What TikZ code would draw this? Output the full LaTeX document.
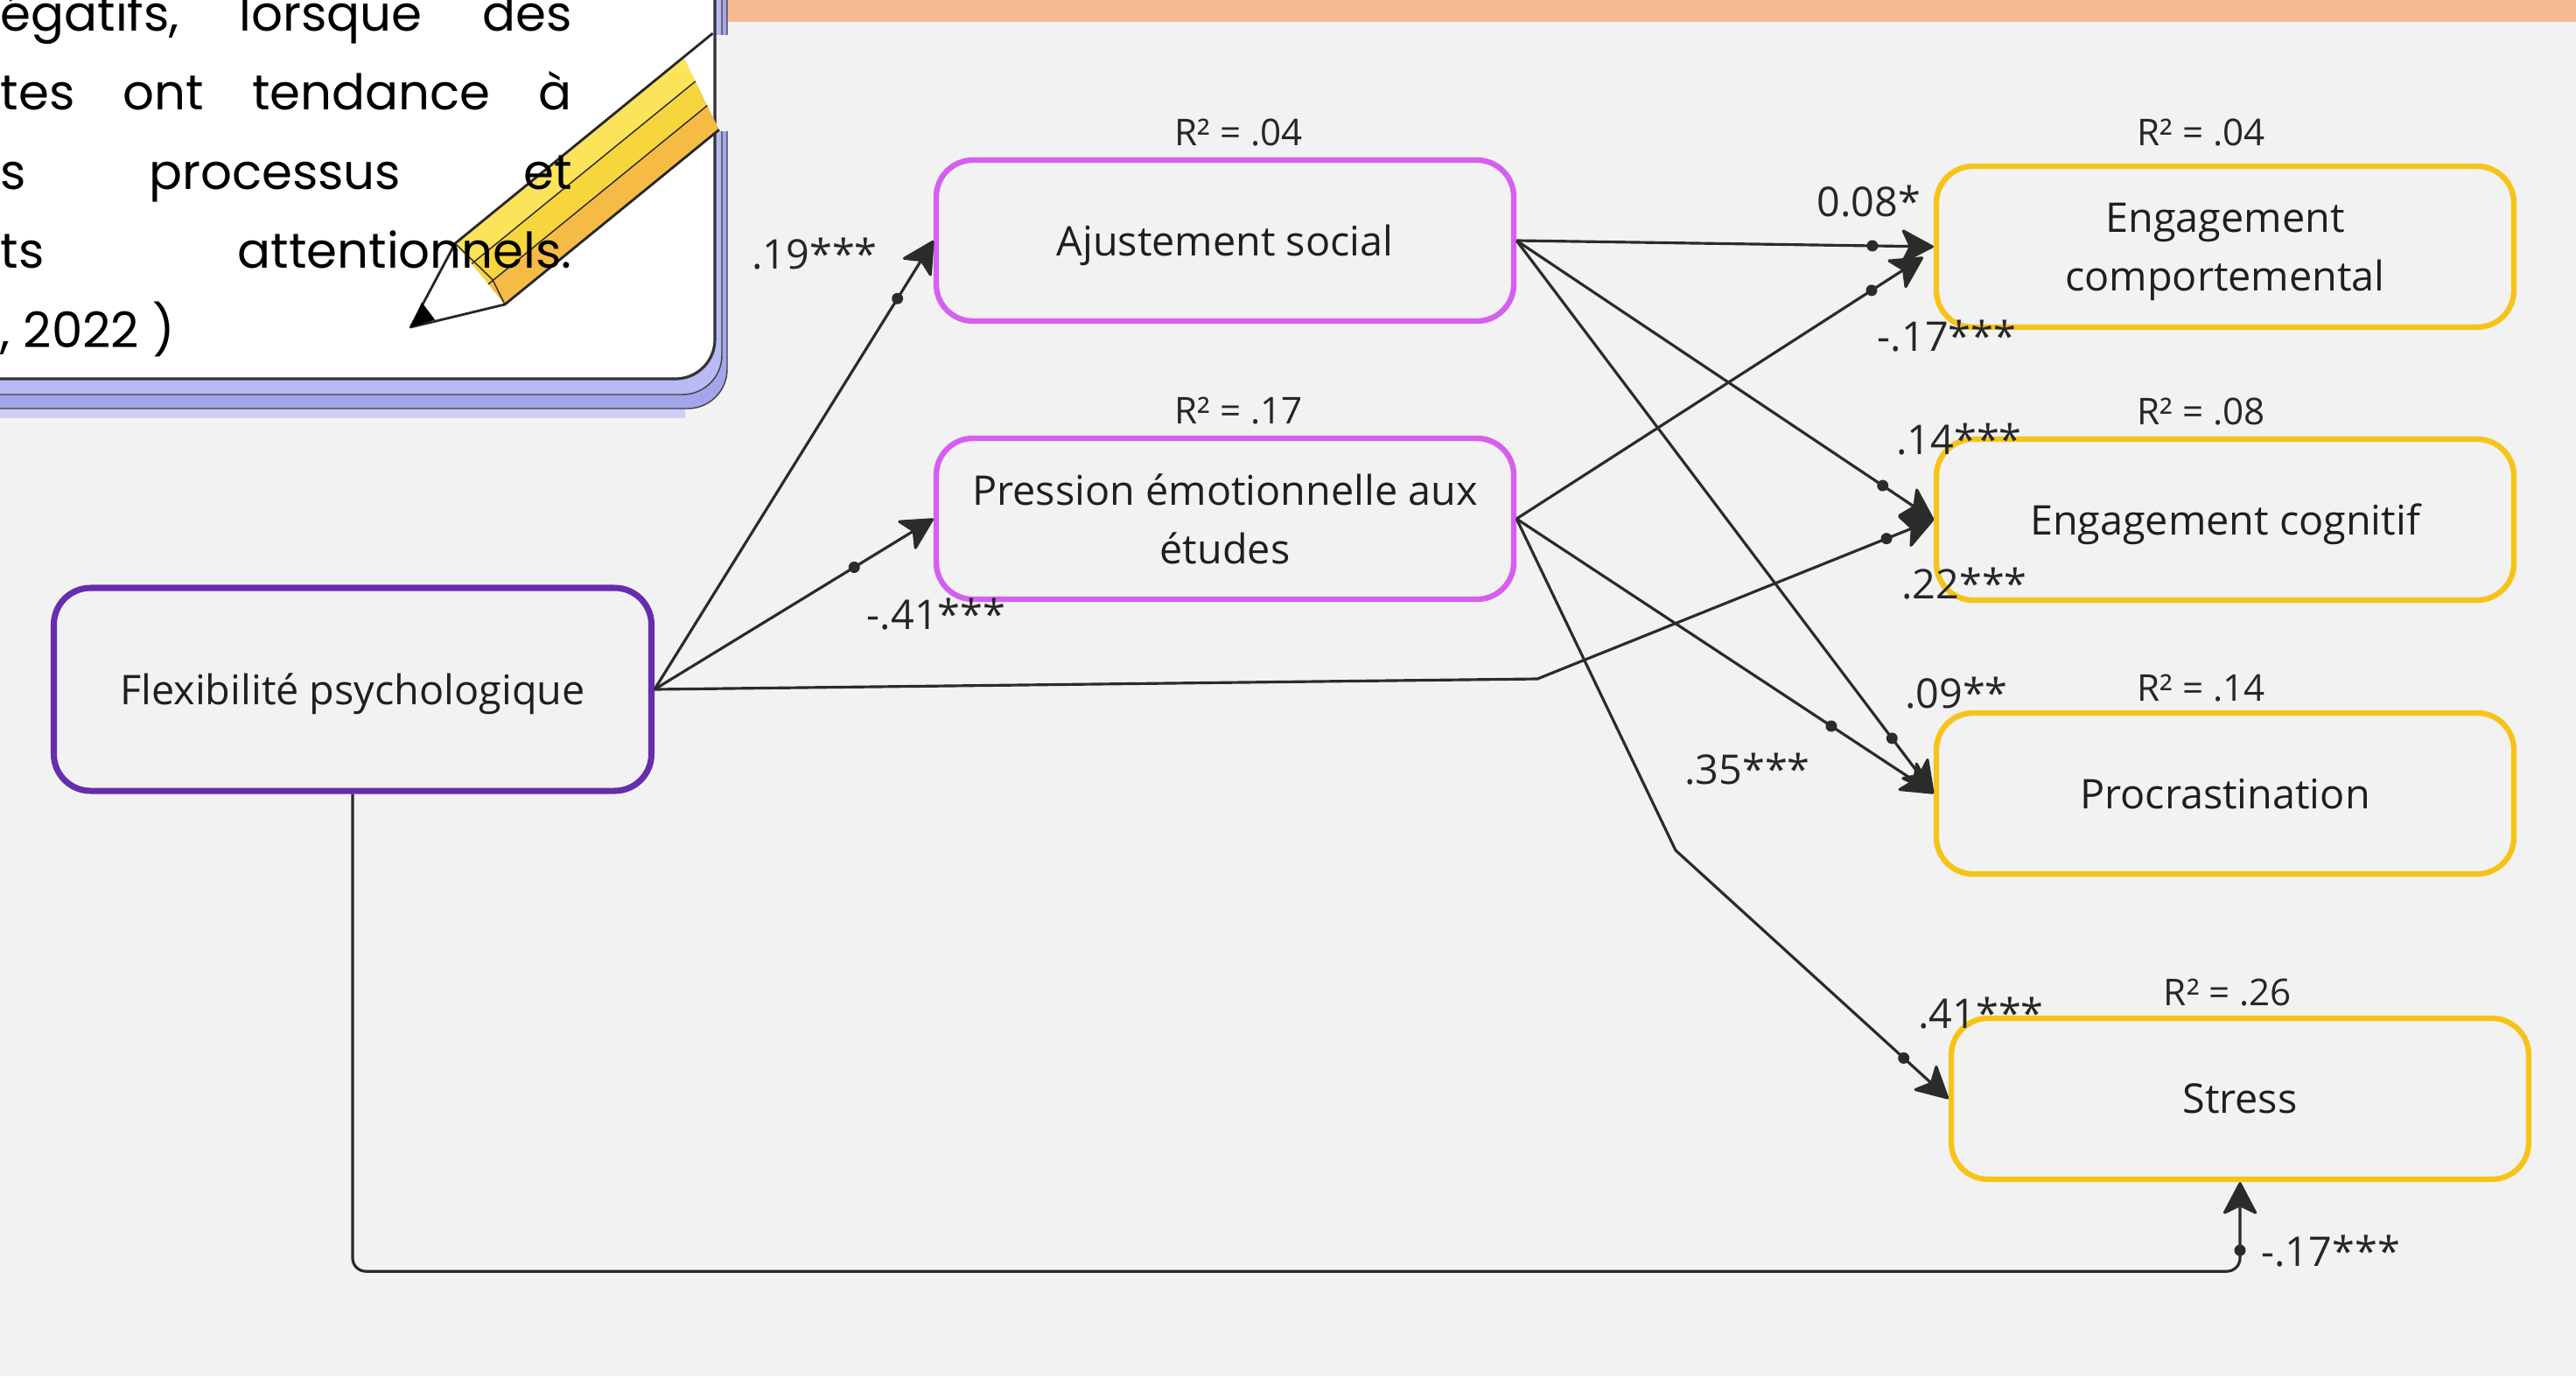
\documentclass[tikz,border=0pt]{standalone}
\usepackage{fontspec}
\setmainfont{Open Sans}
\newfontfamily\cardfont{Poppins}
\usetikzlibrary{arrows.meta,decorations.markings}

\definecolor{bgcol}{HTML}{F2F2F2}
\definecolor{flexcol}{HTML}{662DAD}
\definecolor{medcol}{HTML}{D55FF0}
\definecolor{outcol}{HTML}{F6C418}
\definecolor{linecol}{HTML}{2B2B2B}
\definecolor{peach}{HTML}{F5BB93}
\definecolor{lavender}{HTML}{B9B9F3}
\definecolor{lavdark}{HTML}{A5A5EC}
\definecolor{pencilA}{HTML}{FBE35A}
\definecolor{pencilB}{HTML}{F7D53C}
\definecolor{pencilC}{HTML}{F5BB45}

\tikzset{
    box/.style={draw, rounded corners=0.42cm, line width=1.8pt,
        minimum width=6.6cm, minimum height=1.84cm, align=center,
        text depth=0pt, text=black!88, font=\fontsize{13.3}{19}\selectfont},
    flexbox/.style={box, draw=flexcol, line width=2pt,
        minimum width=6.83cm, minimum height=2.32cm},
    medbox/.style={box, draw=medcol},
    outbox/.style={box, draw=outcol},
    rsq/.style={text=black!85, font=\fontsize{12}{14}\selectfont},
    coef/.style={text=black!85, font=\fontsize{13.3}{15}\selectfont},
    link/.style={draw=linecol, line width=0.9pt,
        -{Stealth[length=0.4cm,width=0.42cm,inset=0.1cm,round]}},
    knot/.style={postaction={decorate, decoration={markings,
        mark=at position -#1 with {\fill[linecol] (0,0) circle (0.065);}}}},
    knot/.default=0.78cm,
    cardtxt/.style={anchor=base west, inner sep=0pt,
        font=\cardfont\fontsize{16}{18}\selectfont}
}

\begin{document}
\begin{tikzpicture}
    \useasboundingbox (0,0) rectangle (29.44,-15.73);
    \clip (0,0) rectangle (29.44,-15.73);
    \fill[bgcol] (0,0) rectangle (29.44,-15.73);
    \fill[peach] (8.31,0) rectangle (29.44,-0.245);

    % note card
    \fill[lavender!70] (-1,1) rectangle (7.83,-4.78);
    \begin{scope}[rounded corners=0.45cm]
    \draw[black!75, fill=lavdark] (-1,1) rectangle (8.31,-4.67);
    \draw[black!75, fill=lavender] (-1,1) rectangle (8.25,-4.51);
    \draw[black!80, line width=0.9pt, fill=white] (-1,1) rectangle (8.17,-4.33);
    \end{scope}
    \fill[bgcol] (8.19,-0.40) rectangle (8.35,-1.50);

    % pencil
    \begin{scope}[shift={(5.77,-3.48)}, rotate=39.2, line join=round, black!85]
    \fill[white] (0,0) -- (-1.0,0.48) -- (0,0.9) -- cycle;
    \fill[pencilA] (0,0.9) -- (3.37,0.9) -- (3.30,0.6) -- (0,0.6) -- cycle;
    \fill[pencilB] (0,0.6) -- (3.30,0.6) -- (3.23,0.3) -- (0,0.3) -- cycle;
    \fill[pencilC] (0,0.3) -- (3.23,0.3) -- (3.16,0) -- (0,0) -- cycle;
    \draw (0,0.6) -- (3.30,0.6);
    \draw (0,0.3) -- (3.23,0.3);
    \draw[line width=0.8pt] (3.16,0) -- (0,0) -- (-1.0,0.48) -- (0,0.9) -- (3.8,0.9);
    \draw (0,0) -- (0.07,0.31) -- (0,0.9);
    \fill[black] (-1.0,0.48) -- (-0.73,0.37) -- (-0.72,0.62) -- cycle;
    \end{scope}

    \node[cardtxt] (line1) at (0,-0.35) {\makebox[6.53cm][s]{égatifs,\hfill lorsque\hfill des}};
    \node[cardtxt] (line2) at (0,-1.255) {\makebox[6.53cm][s]{tes\hfill ont\hfill tendance\hfill à}};
    \node[cardtxt] (line3) at (0,-2.16) {\makebox[6.53cm][s]{s\hfill processus\hfill et}};
    \node[cardtxt] (line4) at (0,-3.065) {\makebox[6.53cm][s]{ts\hfill attentionnels.}};
    \node[cardtxt] (line5) at (0,-3.97) {, 2022 )};

    % variables
    \node[flexbox] (flex)    at (4.03,-7.88)   {Flexibilité psychologique};
    \node[medbox]  (ajust)   at (14.0,-2.75)   {Ajustement social};
    \node[medbox]  (press)   at (14.0,-5.93)   {Pression émotionnelle aux\\études};
    \node[outbox]  (engcomp) at (25.43,-2.82)  {Engagement\\comportemental};
    \node[outbox]  (engcog)  at (25.43,-5.94)  {Engagement cognitif};
    \node[outbox]  (procr)   at (25.43,-9.07)  {Procrastination};
    \node[outbox]  (stress)  at (25.60,-12.56) {Stress};

    \node[rsq] (rajust)   at (14.16,-1.52)  {R² = .04};
    \node[rsq] (rpress)   at (14.16,-4.70)  {R² = .17};
    \node[rsq] (rengcomp) at (25.16,-1.52)  {R² = .04};
    \node[rsq] (rengcog)  at (25.16,-4.70)  {R² = .08};
    \node[rsq] (rprocr)   at (25.16,-7.87)  {R² = .14};
    \node[rsq] (rstress)  at (25.46,-11.35) {R² = .26};

    % paths
    \draw[link, knot] (flex.east) -- (ajust.west);
    \draw[link, knot=1.06cm] (flex.east) -- (press.west);
    \draw[link, knot=0.58cm] (flex.east) -- (17.57,-7.76) -- (engcog.west);
    \draw[link, knot, rounded corners=0.15cm] (flex.south)
        |- ([yshift=-1.02cm]stress.south) -- (stress.south);
    \draw[link, knot=0.70cm] (ajust.east) -- (engcomp.west);
    \draw[link, knot=0.70cm] (ajust.east) -- (engcog.west);
    \draw[link, knot=0.79cm] (ajust.east) -- (procr.west);
    \draw[link, knot=0.70cm] (press.east) -- ([shift={(-0.12,-0.12)}]engcomp.west);
    \draw[link, knot=1.40cm] (press.east) -- (procr.west);
    \draw[link, knot=0.68cm] (press.east) -- (19.15,-9.72) -- (stress.west);

    \node[coef] (cajust)    at (9.31,-2.90)   {.19***};
    \node[coef] (cpress)    at (10.70,-7.02)  {-.41***};
    \node[coef] (cflexcog)  at (22.45,-6.67)  {.22***};
    \node[coef, anchor=west] (cflexst) at (25.72,-14.30) {-.17***};
    \node[coef] (cajcomp)   at (21.36,-2.30)  {0.08*};
    \node[coef] (cajcog)    at (22.39,-5.02)  {.14***};
    \node[coef] (cajproc)   at (22.36,-7.92)  {.09**};
    \node[coef] (cprcomp)   at (22.25,-3.84)  {-.17***};
    \node[coef] (cprproc)   at (19.97,-8.79)  {.35***};
    \node[coef] (cprst)     at (22.64,-11.58) {.41***};
\end{tikzpicture}
\end{document}
